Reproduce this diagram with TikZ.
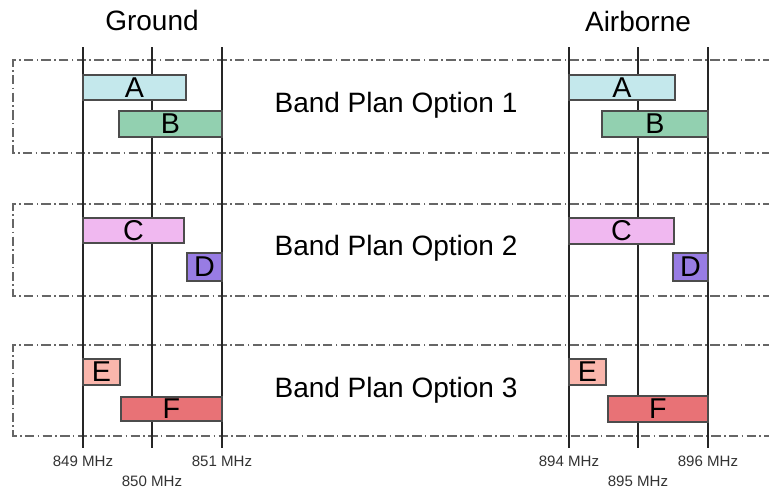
\documentclass[tikz,border=0pt]{standalone}
\usepackage{fontspec}
\setmainfont{Liberation Sans}
\definecolor{colA}{RGB}{196,232,236}
\definecolor{colB}{RGB}{146,208,176}
\definecolor{colC}{RGB}{240,184,240}
\definecolor{colD}{RGB}{152,124,228}
\definecolor{colE}{RGB}{250,182,172}
\definecolor{colF}{RGB}{232,114,118}
\begin{document}
\begin{tikzpicture}[x=0.75pt,y=-0.75pt,
	optbox/.style={draw=black!60,line width=1.1pt,dash pattern=on 7pt off 2.5pt on 1.2pt off 2.5pt},
	freq/.style={draw=black!85,line width=0.9pt},
	bar/.style={draw=black!70,line width=0.8pt},
	barlbl/.style={font=\fontsize{21.5}{22}\selectfont},
	title/.style={font=\fontsize{21}{22}\selectfont},
	mhz/.style={font=\fontsize{11.3}{12}\selectfont,text=black!80}]
	\useasboundingbox (0,0) rectangle (769,489);
	\clip (0,0) rectangle (769,489);
	
	% option frames
	\draw[optbox] (790,60) -- (13,60) -- (13,153) -- (790,153);
	\draw[optbox] (790,204) -- (13,204) -- (13,296) -- (790,296);
	\draw[optbox] (790,345) -- (13,345) -- (13,436) -- (790,436);
	
	% headings
	\node[title] (ground) at (152,20) {Ground};
	\node[title] (air) at (638,21) {Airborne};
	\node[title] (opt1) at (396,105) {Band Plan Option 1};
	\node[title] (opt2) at (396,248) {Band Plan Option 2};
	\node[title] (opt3) at (396,390) {Band Plan Option 3};
	
	% frequency lines
	\draw[freq] (83,47) -- (83,448);
	\draw[freq] (152,47) -- (152,448);
	\draw[freq] (222,47) -- (222,448);
	\draw[freq] (569,47) -- (569,448);
	\draw[freq] (638,47) -- (638,448);
	\draw[freq] (708,47) -- (708,448);
	
	% ground channels
	\draw[bar,fill=colA] (83,75) rectangle (186,100) node[midway,barlbl] (gA) {A};
	\draw[bar,fill=colB] (119,111) rectangle (222,137) node[midway,barlbl] (gB) {B};
	\draw[bar,fill=colC] (83,218) rectangle (184,243) node[midway,barlbl] (gC) {C};
	\draw[bar,fill=colD] (187,253) rectangle (222,281) node[midway,barlbl] (gD) {D};
	\draw[bar,fill=colE] (83,359) rectangle (120,385) node[midway,barlbl] (gE) {E};
	\draw[bar,fill=colF] (121,397) rectangle (222,421) node[midway,barlbl] (gF) {F};
	
	% airborne channels
	\draw[bar,fill=colA] (569,75) rectangle (675,100) node[midway,barlbl] (aA) {A};
	\draw[bar,fill=colB] (602,111) rectangle (708,137) node[midway,barlbl] (aB) {B};
	\draw[bar,fill=colC] (569,218) rectangle (674,244) node[midway,barlbl] (aC) {C};
	\draw[bar,fill=colD] (673,253) rectangle (708,281) node[midway,barlbl] (aD) {D};
	\draw[bar,fill=colE] (569,359) rectangle (606,385) node[midway,barlbl] (aE) {E};
	\draw[bar,fill=colF] (608,396) rectangle (708,422) node[midway,barlbl] (aF) {F};
	
	\node[mhz] (f849) at (83,461) {849 MHz};
	\node[mhz] (f850) at (152,481) {850 MHz};
	\node[mhz] (f851) at (222,461) {851 MHz};
	\node[mhz] (f894) at (569,461) {894 MHz};
	\node[mhz] (f895) at (638,481) {895 MHz};
	\node[mhz] (f896) at (708,461) {896 MHz};
\end{tikzpicture}
\end{document}
